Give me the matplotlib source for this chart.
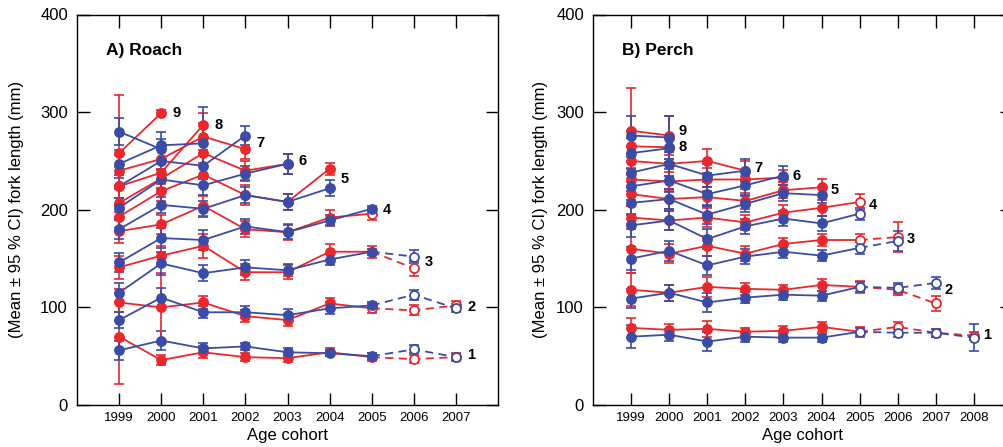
import matplotlib.pyplot as plt

plt.rcParams['font.family'] = ['Liberation Sans', 'DejaVu Sans']

RED = '#e8282d'
BLUE = '#3a4ca5'

# mean fork length per age (list index 0 = age 1), first value is the 1999 cohort
roach_red = [
    [70, 46, 54, 49, 48, 54, 49, 47, 49],
    [105, 100, 105, 91, 87, 104, 99, 97, 102],
    [141, 153, 163, 136, 136, 157, 157, 140],
    [178, 185, 204, 180, 177, 192, 196],
    [193, 219, 236, 215, 208, 242],
    [207, 232, 258, 240, 247],
    [240, 252, 275, 262],
    [224, 238, 287],
    [258, 299],
]
roach_red_ci = [
    [49, 5, 6, 4, 4, 4, 4, 4, 4],
    [10, 35, 7, 6, 6, 6, 5, 5, 5],
    [12, 10, 12, 8, 7, 8, 6, 8],
    [12, 10, 10, 8, 8, 8, 6],
    [12, 10, 12, 10, 8, 6],
    [14, 10, 12, 10, 10],
    [16, 10, 14, 10],
    [20, 12, 12],
    [60, 3],
]
roach_blue = [
    [56, 66, 58, 60, 54, 53, 50, 57, 49],
    [87, 110, 95, 95, 92, 99, 102, 113, 99],
    [115, 145, 135, 141, 138, 149, 157, 152],
    [146, 171, 169, 183, 177, 189, 201],
    [180, 205, 201, 215, 208, 222],
    [202, 231, 225, 237, 247],
    [224, 250, 245, 276],
    [247, 266, 268],
    [280, 262],
]
roach_blue_ci = [
    [10, 10, 6, 4, 4, 3, 3, 4, 3],
    [8, 10, 6, 6, 6, 6, 3, 5, 4],
    [10, 12, 8, 8, 6, 6, 3, 7],
    [10, 10, 10, 8, 7, 6, 3],
    [10, 8, 8, 8, 8, 8],
    [10, 10, 10, 8, 10],
    [12, 12, 12, 10],
    [14, 14, 37],
    [14, 10],
]

perch_red = [
    [79, 77, 78, 75, 76, 80, 75, 80, 74, 71],
    [118, 115, 121, 119, 118, 123, 121, 118, 104],
    [160, 155, 163, 155, 165, 169, 169, 172],
    [192, 189, 192, 187, 197, 202, 208],
    [216, 211, 213, 209, 220, 223],
    [231, 229, 231, 231, 233],
    [250, 247, 250, 240],
    [265, 264],
    [281, 276],
]
perch_red_ci = [
    [10, 6, 8, 4, 5, 5, 5, 5, 4, 4],
    [17, 8, 10, 6, 5, 6, 6, 5, 8],
    [25, 10, 10, 8, 6, 6, 6, 15],
    [12, 10, 10, 8, 8, 8, 8],
    [12, 10, 10, 8, 8, 8],
    [12, 10, 12, 10, 8],
    [14, 12, 12, 10],
    [16, 12],
    [44, 20],
]
perch_blue = [
    [70, 72, 65, 70, 69, 69, 75, 74, 74, 69],
    [109, 115, 105, 110, 113, 112, 121, 120, 125],
    [150, 158, 143, 152, 157, 153, 161, 168],
    [184, 189, 170, 183, 191, 186, 196],
    [207, 211, 195, 206, 217, 215],
    [224, 230, 216, 225, 235],
    [238, 247, 235, 240],
    [258, 263],
    [276, 274],
]
perch_blue_ci = [
    [12, 6, 10, 5, 4, 4, 4, 4, 4, 14],
    [10, 8, 10, 6, 5, 5, 5, 5, 6],
    [12, 10, 10, 8, 6, 6, 6, 10],
    [12, 10, 10, 8, 8, 8, 6],
    [12, 10, 10, 8, 8, 8],
    [14, 12, 12, 10, 10],
    [16, 12, 12, 12],
    [16, 14],
    [20, 22],
]

# age label heights (mm) next to the last point of each line
roach_label_y = [51, 100, 146, 200, 231, 250, 268, 287, 299]
perch_label_y = [72, 118, 170, 205, 220, 235, 243, 264, 281]


def draw_series(ax, vals, cis, color, open_from):
    yrs = list(range(1999, 1999 + len(vals)))
    solid = [i for i, y in enumerate(yrs) if y <= 2005]
    dashed = [i for i, y in enumerate(yrs) if y >= 2005]
    ax.plot([yrs[i] for i in solid], [vals[i] for i in solid], '-', color=color, lw=1.3, zorder=2)
    if len(dashed) > 1:
        ax.plot([yrs[i] for i in dashed], [vals[i] for i in dashed], '--', color=color,
                lw=1.3, dashes=(4.5, 3), zorder=2)
    ax.errorbar(yrs, vals, yerr=cis, fmt='none', ecolor=color, elinewidth=1.2,
                capsize=3.5, capthick=1.2, zorder=3)
    for y, v in zip(yrs, vals):
        fc = 'white' if y >= open_from else color
        ax.plot(y, v, 'o', ms=6.5, mfc=fc, mec=color, mew=1.3, zorder=4)


def draw_panel(ax, red, red_ci, blue, blue_ci, red_open, blue_open, label_y, xmax, title, xoff):
    for k in range(9):
        draw_series(ax, red[k], red_ci[k], RED, red_open)
        draw_series(ax, blue[k], blue_ci[k], BLUE, blue_open)
        last = 1999 + max(len(red[k]), len(blue[k])) - 1
        ax.annotate(str(k + 1), xy=(last, label_y[k]), xytext=(xoff, 0),
                    textcoords='offset points', ha='left', va='center',
                    fontsize=10.5, fontweight='bold')
    ax.set_xlim(1998, xmax)
    ax.set_ylim(0, 400)
    ax.set_xticks(range(1999, xmax))
    ax.set_yticks([0, 100, 200, 300, 400])
    ax.tick_params(direction='in', length=9, width=1, top=True, right=True)
    ax.tick_params(axis='y', labelsize=12, pad=6.5)
    ax.tick_params(axis='x', labelsize=9.5, pad=5)
    for s in ax.spines.values():
        s.set_linewidth(1)
    ax.set_xlabel('Age cohort', fontsize=12)
    ax.set_ylabel('(Mean \u00b1 95 % CI) fork length (mm)', fontsize=12)
    ax.text(0.069, 0.907, title, transform=ax.transAxes, fontsize=12.5,
            fontweight='bold', ha='left', va='center')


fig = plt.figure(figsize=(10.04, 4.47), dpi=100)
ax1 = fig.add_axes([77 / 1004, 42 / 447, 421 / 1004, 390.5 / 447])
ax2 = fig.add_axes([593 / 1004, 42 / 447, 419 / 1004, 390.5 / 447])

draw_panel(ax1, roach_red, roach_red_ci, roach_blue, roach_blue_ci, 2005, 2006,
           roach_label_y, 2008, 'A) Roach', 8)
draw_panel(ax2, perch_red, perch_red_ci, perch_blue, perch_blue_ci, 2005, 2005,
           perch_label_y, 2009, 'B) Perch', 6.5)

ax1.yaxis.set_label_coords(-0.125, 0.5)
ax2.yaxis.set_label_coords(-0.108, 0.5)
ax1.xaxis.set_label_coords(0.5, -0.058)
ax2.xaxis.set_label_coords(0.5, -0.058)

fig.savefig('out.png', dpi=100)
